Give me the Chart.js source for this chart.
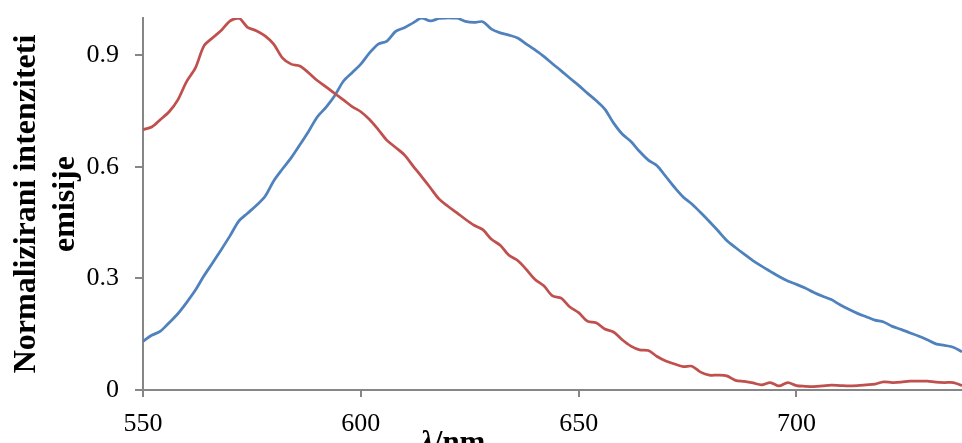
<!DOCTYPE html>
<html>
<head>
<meta charset="utf-8">
<script src="https://cdn.jsdelivr.net/npm/chart.js@4.4.1/dist/chart.umd.min.js"></script>
<style>
  html, body { margin: 0; padding: 0; background: #fff; overflow: hidden; }
  #wrap { position: relative; width: 962px; height: 443px; overflow: hidden; }
  #xTitle { position: absolute; left: 420px; top: 426px; font: bold 31px 'Liberation Serif', serif; line-height: 1; white-space: nowrap; color: #000; }
</style>
</head>
<body>
<div id="wrap">
  <canvas id="spectra" width="962" height="443"></canvas>
  <div id="xTitle"><i>λ</i>/nm</div>
</div>
<script>
// wavelength grid (nm), every 2 nm
var wavelengths = [];
for (var w = 550; w <= 738; w += 2) wavelengths.push(w);

// red curve (normalized emission)
var emissionRed = [
  0.700, 0.707, 0.727, 0.748, 0.780, 0.829, 0.865, 0.925, 0.947, 0.967,
  0.992, 1.000, 0.975, 0.966, 0.952, 0.930, 0.893, 0.876, 0.871, 0.853,
  0.832, 0.815, 0.797, 0.780, 0.762, 0.748, 0.727, 0.700, 0.671, 0.652,
  0.632, 0.602, 0.573, 0.543, 0.513, 0.494, 0.477, 0.459, 0.443, 0.431,
  0.405, 0.389, 0.362, 0.348, 0.324, 0.297, 0.280, 0.253, 0.247, 0.223,
  0.208, 0.185, 0.181, 0.164, 0.156, 0.135, 0.118, 0.108, 0.106, 0.090,
  0.078, 0.070, 0.063, 0.064, 0.048, 0.040, 0.040, 0.038, 0.026, 0.023,
  0.019, 0.014, 0.020, 0.011, 0.020, 0.012, 0.010, 0.009, 0.011, 0.013,
  0.012, 0.011, 0.012, 0.014, 0.016, 0.022, 0.020, 0.021, 0.024, 0.024,
  0.024, 0.021, 0.020, 0.020, 0.012
];

// blue curve (normalized emission)
var emissionBlue = [
  0.131, 0.147, 0.158, 0.181, 0.205, 0.235, 0.268, 0.307, 0.342, 0.378,
  0.415, 0.454, 0.475, 0.496, 0.520, 0.562, 0.594, 0.624, 0.659, 0.695,
  0.734, 0.760, 0.791, 0.830, 0.853, 0.876, 0.906, 0.930, 0.938, 0.964,
  0.974, 0.987, 1.000, 0.992, 0.999, 1.000, 1.000, 0.991, 0.988, 0.990,
  0.970, 0.960, 0.954, 0.946, 0.930, 0.914, 0.897, 0.877, 0.858, 0.838,
  0.819, 0.798, 0.778, 0.755, 0.718, 0.688, 0.668, 0.641, 0.618, 0.603,
  0.574, 0.545, 0.519, 0.500, 0.477, 0.453, 0.428, 0.402, 0.383, 0.365,
  0.348, 0.333, 0.319, 0.305, 0.293, 0.284, 0.274, 0.262, 0.252, 0.243,
  0.229, 0.217, 0.206, 0.197, 0.188, 0.183, 0.171, 0.163, 0.154, 0.145,
  0.135, 0.124, 0.120, 0.115, 0.103
];

var yTitle = ['Normalizirani intenziteti', 'emisije'];

function toPoints(values) {
    return wavelengths.map(function (x, i) { return { x: x, y: values[i] }; });
}

var axisGray = '#868686';
var serif = "'Liberation Serif', 'Times New Roman', serif";

new Chart(document.getElementById('spectra').getContext('2d'), {
    type: 'line',
    data: {
        datasets: [
            {
                label: 'red',
                data: toPoints(emissionRed),
                borderColor: '#C0504D',
                borderWidth: 2.75,
                pointRadius: 0,
                tension: 0.3
            },
            {
                label: 'blue',
                data: toPoints(emissionBlue),
                borderColor: '#4F81BD',
                borderWidth: 2.75,
                pointRadius: 0,
                tension: 0.3
            }
        ]
    },
    options: {
        responsive: false,
        animation: false,
        layout: { padding: { top: 18, left: 0, right: 0, bottom: 0 } },
        plugins: {
            legend: { display: false },
            tooltip: { enabled: false }
        },
        scales: {
            x: {
                type: 'linear',
                min: 550,
                max: 738,
                afterFit: function (s) {
                    s.height = 53;
                    s.paddingLeft = 0;
                    s.paddingRight = 0;
                },
                ticks: {
                    stepSize: 50,
                    includeBounds: false,
                    maxRotation: 0,
                    padding: 12,
                    color: '#000',
                    font: { family: serif, size: 26 }
                },
                grid: { drawOnChartArea: false, tickLength: 7, color: axisGray, lineWidth: 2 },
                border: { color: axisGray, width: 2 }
            },
            y: {
                min: 0,
                max: 1,
                afterFit: function (s) {
                    s.width = 143;
                    s.paddingTop = 0;
                    s.paddingBottom = 0;
                },
                ticks: {
                    stepSize: 0.3,
                    includeBounds: false,
                    padding: 16,
                    color: '#000',
                    font: { family: serif, size: 26 },
                    callback: function (v) { return String(+v.toFixed(1)); }
                },
                grid: { drawOnChartArea: false, tickLength: 8, color: axisGray, lineWidth: 2 },
                border: { color: axisGray, width: 2 },
                title: {
                    display: true,
                    text: yTitle,
                    color: '#000',
                    padding: { top: 7, bottom: 0 },
                    font: { family: serif, size: 32, weight: 'bold', lineHeight: 1.22 }
                }
            }
        }
    }
});
</script>
</body>
</html>
